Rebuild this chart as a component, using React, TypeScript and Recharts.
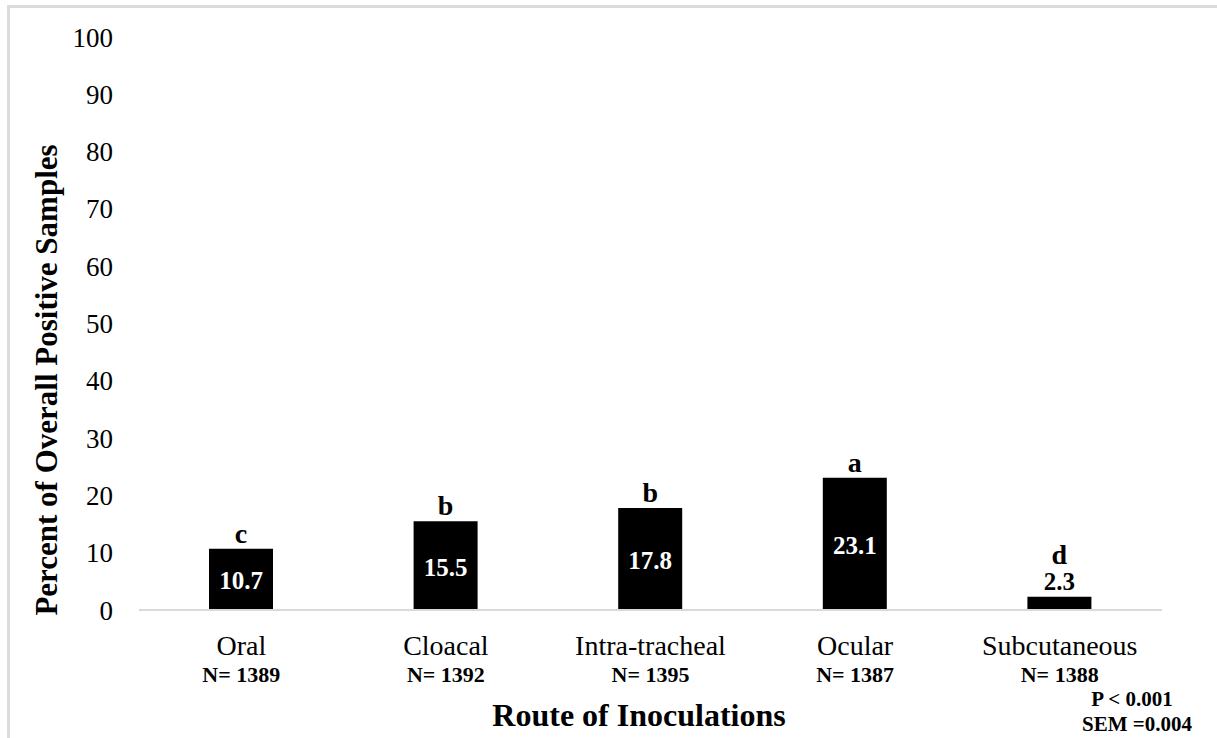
import { BarChart, Bar, XAxis, YAxis, LabelList } from 'recharts'

const routes = ['Oral', 'Cloacal', 'Intra-tracheal', 'Ocular', 'Subcutaneous']
const positives = [10.7, 15.5, 17.8, 23.1, 2.3]
const letters = ['c', 'b', 'b', 'a', 'd']
const sampleCounts = ['N= 1389', 'N= 1392', 'N= 1395', 'N= 1387', 'N= 1388']
const yTicks = [0, 10, 20, 30, 40, 50, 60, 70, 80, 90, 100]

const data = routes.map((r, i) => ({ route: r, value: positives[i], letter: letters[i], n: sampleCounts[i] }))

const serif = '"Liberation Serif", "Times New Roman", serif'

const RouteTick = (props: any) => {
  const { x, y, payload, index } = props
  return (
    <g>
      <text x={x} y={y + 45} textAnchor="middle" fontFamily={serif} fontSize={28} fill="#000">
        {payload.value}
      </text>
      <text x={x} y={y + 72} textAnchor="middle" fontFamily={serif} fontSize={22} fontWeight="bold" fill="#000">
        {sampleCounts[index]}
      </text>
    </g>
  )
}

const BarLabels = (props: any) => {
  const { x, y, width, height, index } = props
  const cx = Number(x) + Number(width) / 2
  const top = Number(y)
  const h = Number(height)
  const v = positives[index]
  const small = h < 40
  return (
    <g>
      <text
        x={cx}
        y={small ? top - 33 : top - 6}
        textAnchor="middle"
        fontFamily={serif}
        fontSize={28}
        fontWeight="bold"
        fill="#000"
      >
        {letters[index]}
      </text>
      <text
        x={cx}
        y={small ? top - 7 : top + h / 2 + 10}
        textAnchor="middle"
        fontFamily={serif}
        fontSize={25}
        fontWeight="bold"
        fill={small ? '#000' : '#fff'}
      >
        {v.toFixed(1)}
      </text>
    </g>
  )
}

export default function App() {
  return (
    <div style={{ position: 'absolute', left: 0, top: 0, width: 1217, height: 738, background: '#fff', overflow: 'hidden' }}>
      <div
        style={{
          position: 'absolute',
          left: 7,
          top: 5,
          width: 1220,
          height: 740,
          borderTop: '3px solid #dcdcdc',
          borderLeft: '3px solid #dcdcdc',
        }}
      />
      <div style={{ position: 'absolute', left: 0, top: 0 }}>
        <BarChart width={1217} height={738} data={data} margin={{ top: 37, right: 55, left: 79, bottom: 28 }}>
          <XAxis
            dataKey="route"
            height={100}
            axisLine={{ stroke: '#d9d9d9', strokeWidth: 2 }}
            tickLine={false}
            tickSize={0}
            tickMargin={0}
            tick={<RouteTick />}
            interval={0}
          />
          <YAxis
            width={60}
            domain={[0, 100]}
            ticks={yTicks}
            axisLine={false}
            tickLine={false}
            tickSize={0}
            tickMargin={26}
            tick={{ fontFamily: serif, fontSize: 27, fill: '#000' }}
          />
          <Bar dataKey="value" fill="#000" barSize={64} isAnimationActive={false}>
            <LabelList dataKey="value" content={<BarLabels />} />
          </Bar>
        </BarChart>
      </div>
      <svg width={1217} height={738} style={{ position: 'absolute', left: 0, top: 0, pointerEvents: 'none' }}>
        <text
          x={57}
          y={380}
          transform="rotate(-90, 57, 380)"
          textAnchor="middle"
          fontFamily={serif}
          fontSize={31}
          fontWeight="bold"
          fill="#000"
        >
          Percent of Overall Positive Samples
        </text>
        <text x={639} y={726} textAnchor="middle" fontFamily={serif} fontSize={32} fontWeight="bold" fill="#000">
          Route of Inoculations
        </text>
        <text x={1132} y={706} textAnchor="middle" fontFamily={serif} fontSize={21} fontWeight="bold" fill="#000">
          P &lt; 0.001
        </text>
        <text x={1137} y={731} textAnchor="middle" fontFamily={serif} fontSize={21} fontWeight="bold" fill="#000">
          SEM =0.004
        </text>
      </svg>
    </div>
  )
}
